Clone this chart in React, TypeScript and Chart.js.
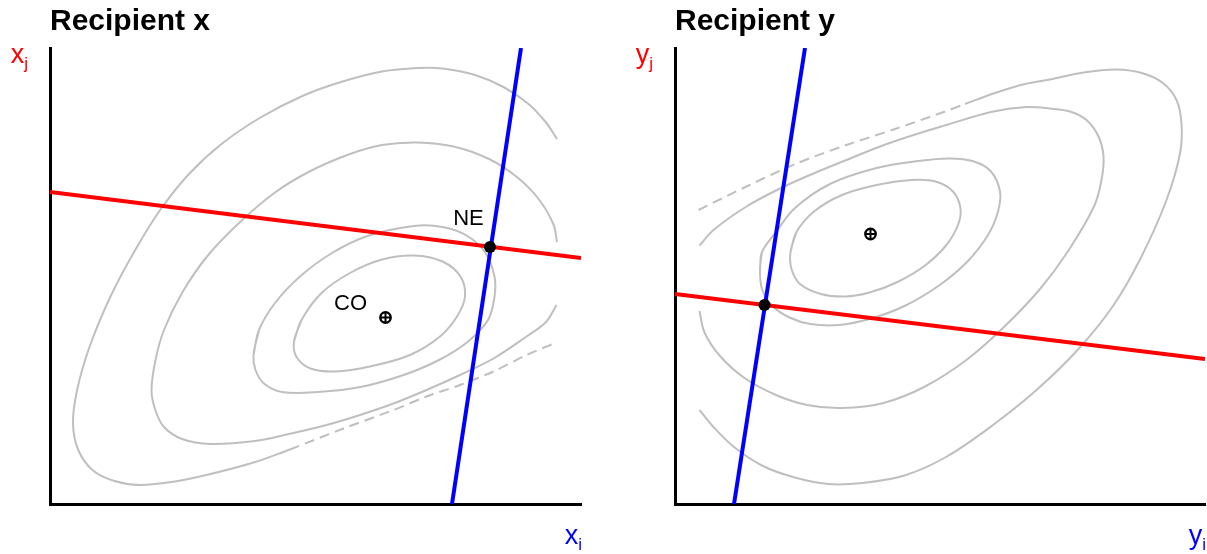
import React, { useEffect, useRef } from "react";
import { Chart, registerables } from "chart.js";

Chart.register(...registerables);

type Pt = [number, number];

// ---------------- Recipient x (left panel) ----------------
const X_TITLE = "Recipient x";
const X_AXIS_Y = ["x", "j"];
const X_AXIS_X = ["x", "i"];
const X_RANGE: Pt = [106.2, 91.2];

const X_CONTOUR_1: Pt[] = [
  [48.8, 32.5], [50.3, 36.8], [54.3, 42.2], [60.0, 46.2], [66.4, 48.9], [72.8, 49.7],
  [78.5, 48.5], [82.1, 45.5], [83.0, 41.5], [81.4, 37.5], [78.0, 33.5], [72.0, 29.8],
  [64.0, 27.5], [57.0, 26.5], [52.1, 27.1], [49.3, 29.4],
];
const X_CONTOUR_2: Pt[] = [
  [40.7, 29.8], [41.8, 34.8], [45.0, 40.2], [50.0, 45.5], [56.4, 50.2], [63.5, 53.6],
  [72.8, 55.6], [78.5, 55.4], [83.5, 53.6], [87.1, 50.2], [88.9, 45.5], [88.9, 41.5],
  [87.6, 36.8], [83.5, 32.4], [77.8, 28.8], [70.7, 25.8], [62.1, 23.4], [53.6, 22.4],
  [46.4, 22.4], [42.8, 24.1], [41.1, 26.8],
];
const X_CONTOUR_3: Pt[] = [
  [101.3, 39.8], [99.2, 36.4], [95.3, 33.5], [88.7, 29.1], [82.0, 25.8], [75.3, 22.8],
  [68.7, 20.1], [62.0, 17.8], [55.3, 15.8], [47.8, 14.0], [41.0, 12.6], [32.1, 12.0],
  [26.4, 13.0], [22.8, 15.4], [21.1, 18.7], [20.3, 22.7], [21.1, 28.8], [22.8, 34.8],
  [26.4, 42.2], [31.4, 49.5], [37.8, 56.2], [45.0, 62.3], [52.1, 66.6], [60.0, 70.0],
  [66.4, 71.8], [73.5, 72.3], [80.7, 71.5], [87.8, 69.0], [93.5, 65.3], [97.8, 60.9],
  [100.7, 55.9], [101.4, 52.4],
];
const X_CONTOUR_4: Pt[] = [
  [101.4, 73.0], [99.2, 76.3], [95.7, 80.0], [90.7, 83.4], [85.0, 85.8], [78.5, 87.1],
  [73.5, 87.2], [66.4, 86.5], [58.5, 84.5], [50.7, 81.7], [42.1, 77.3], [34.3, 72.0],
  [27.8, 66.0], [22.1, 58.9], [17.1, 50.9], [12.1, 41.5], [7.9, 31.4], [5.4, 22.7],
  [4.6, 16.0], [5.7, 10.7], [8.6, 6.7], [12.9, 4.6], [17.9, 3.8], [25.0, 4.5],
  [32.1, 6.0], [40.7, 8.3], [48.0, 10.9],
];
const X_CONTOUR_4_DASHED: Pt[] = [
  [48.0, 10.9], [58.7, 15.1], [68.7, 18.8], [75.3, 21.5], [82.0, 23.8], [88.7, 26.5],
  [95.3, 29.8], [101.3, 32.3],
];
const X_RED: Pt[] = [[0, 62.4], [106.2, 49.2]];
const X_BLUE: Pt[] = [[80.4, 0], [94.2, 91.2]];
const X_NE: Pt = [88.0, 51.4];
const X_CO: Pt = [67.1, 37.3];
const X_LABELS: { text: string; at: Pt }[] = [
  { text: "NE", at: [83.7, 57.1] },
  { text: "CO", at: [60.1, 40.1] },
];

// ---------------- Recipient y (right panel) ----------------
const Y_TITLE = "Recipient y";
const Y_AXIS_Y = ["y", "j"];
const Y_AXIS_X = ["y", "i"];
const Y_RANGE: Pt = [106, 91.2];

const Y_CONTOUR_1: Pt[] = [
  [23.1, 50.4], [24.3, 54.4], [27.8, 58.5], [33.4, 61.8], [40.3, 63.8], [47.3, 64.8],
  [52.1, 64.5], [55.6, 62.5], [57.1, 59.1], [56.6, 55.8], [54.2, 51.7], [50.0, 47.7],
  [44.5, 44.4], [38.9, 42.3], [34.1, 41.5], [29.2, 42.0], [25.0, 44.0], [23.3, 47.0],
];
const Y_CONTOUR_2: Pt[] = [
  [17.0, 47.0], [17.4, 50.4], [20.2, 54.4], [24.0, 59.2], [31.0, 64.0], [40.3, 67.2],
  [48.7, 68.6], [54.9, 69.1], [59.8, 68.5], [63.2, 66.5], [65.0, 62.5], [64.6, 58.5],
  [62.6, 53.8], [58.4, 48.4], [52.8, 43.7], [45.9, 39.6], [38.9, 37.0], [32.7, 35.8],
  [27.1, 36.0], [22.9, 37.3], [19.5, 39.6], [17.4, 43.0],
];
const Y_CONTOUR_3: Pt[] = [
  [4.9, 51.7], [7.7, 54.8], [14.3, 59.5], [21.0, 63.1], [27.7, 66.1], [34.3, 68.8],
  [41.0, 71.5], [47.7, 73.8], [54.3, 75.8], [63.2, 78.4], [70.2, 79.4], [75.0, 79.1],
  [79.0, 78.5], [82.3, 76.8], [84.7, 73.5], [85.7, 69.5], [85.3, 64.8], [83.8, 59.5],
  [78.5, 50.4], [73.0, 43.0], [66.0, 35.6], [58.4, 28.9], [50.0, 23.5], [41.7, 20.2],
  [33.4, 19.2], [26.4, 19.8], [20.2, 21.8], [13.9, 25.2], [9.0, 29.6], [5.9, 34.3],
  [4.9, 38.6],
];
const Y_CONTOUR_4: Pt[] = [
  [58.0, 80.0], [64.0, 82.2], [70.0, 84.0], [75.0, 84.9], [81.7, 86.3], [88.3, 86.9],
  [93.7, 86.1], [97.7, 84.1], [100.3, 80.8], [101.3, 76.1], [101.0, 70.1], [98.3, 60.8],
  [93.1, 49.1], [87.6, 39.6], [80.6, 30.9], [72.3, 22.8], [63.2, 15.5], [54.2, 9.4],
  [45.9, 5.7], [37.5, 4.2], [30.6, 4.0], [23.6, 5.4], [17.4, 7.7], [11.8, 11.4],
  [7.6, 15.5], [4.9, 18.8],
];
const Y_CONTOUR_4_DASHED: Pt[] = [
  [4.7, 58.8], [14.3, 63.5], [24.3, 68.1], [34.3, 71.8], [44.3, 75.1], [54.3, 78.6],
  [58.0, 80.0],
];
const Y_RED: Pt[] = [[0, 42.0], [106, 29.0]];
const Y_BLUE: Pt[] = [[11.8, 0], [26.0, 91.2]];
const Y_NE: Pt = [17.9, 39.8];
const Y_CO: Pt = [39.1, 54.0];
const Y_LABELS: { text: string; at: Pt }[] = [];

// ---------------- rendering ----------------
const FONT = '"Liberation Sans", Arial, Helvetica, sans-serif';
const GRAY = "#bfbfbf";
const RED = "#ff0000";
const BLUE = "#0000ff";

interface PanelSpec {
  title: string;
  axisY: string[];
  axisX: string[];
  range: Pt;
  closedCurves: Pt[][];
  openCurves: Pt[][];
  dashed: Pt[];
  red: Pt[];
  blue: Pt[];
  ne: Pt;
  co: Pt;
  labels: { text: string; at: Pt }[];
  padding: { left: number; right: number; top: number; bottom: number };
}

const toXY = (pts: Pt[]) => pts.map(([x, y]) => ({ x, y }));
const closeLoop = (pts: Pt[]): Pt[] => [...pts, pts[0], pts[1]];

function curve(pts: Pt[], color: string, width: number, tension: number, dash: number[] = []) {
  return {
    data: toXY(pts),
    showLine: true,
    borderColor: color,
    backgroundColor: color,
    borderWidth: width,
    borderDash: dash,
    borderCapStyle: "butt",
    pointRadius: 0,
    pointHoverRadius: 0,
    tension,
    fill: false,
  };
}

function buildDatasets(s: PanelSpec) {
  return [
    {
      data: toXY([s.co]),
      pointStyle: "cross",
      pointRadius: 4.6,
      pointBorderColor: "#000",
      borderColor: "#000",
      pointBorderWidth: 2,
      showLine: false,
      clip: false,
    },
    {
      data: toXY([s.co]),
      pointStyle: "circle",
      pointRadius: 5.2,
      pointBackgroundColor: "#fff",
      backgroundColor: "#fff",
      pointBorderColor: "#000",
      borderColor: "#000",
      pointBorderWidth: 2.4,
      showLine: false,
      clip: false,
    },
    {
      data: toXY([s.ne]),
      pointStyle: "circle",
      pointRadius: 6,
      pointBackgroundColor: "#000",
      backgroundColor: "#000",
      pointBorderWidth: 0,
      borderWidth: 0,
      showLine: false,
      clip: false,
    },
    curve(s.blue, BLUE, 4, 0),
    curve(s.red, RED, 4, 0),
    ...s.closedCurves.map((c) => curve(closeLoop(c), GRAY, 2, 0.35)),
    ...s.openCurves.map((c) => curve(c, GRAY, 2, 0.35)),
    curve(s.dashed, GRAY, 2, 0.3, [10, 6]),
  ];
}

function drawSubLabel(
  ctx: CanvasRenderingContext2D,
  parts: string[],
  right: number,
  baseline: number,
  color: string
) {
  ctx.fillStyle = color;
  ctx.textAlign = "left";
  ctx.textBaseline = "alphabetic";
  ctx.font = `27px ${FONT}`;
  const wm = ctx.measureText(parts[0]).width;
  ctx.font = `17px ${FONT}`;
  const ws = ctx.measureText(parts[1]).width;
  const x0 = right - wm - ws;
  ctx.font = `27px ${FONT}`;
  ctx.fillText(parts[0], x0, baseline);
  ctx.font = `17px ${FONT}`;
  ctx.fillText(parts[1], x0 + wm, baseline + 6);
}

function textPlugin(s: PanelSpec) {
  return {
    id: "panelTexts",
    afterDatasetsDraw(chart: any) {
      const { ctx, chartArea: a, scales } = chart;
      ctx.save();
      ctx.fillStyle = "#000";
      ctx.font = `bold 30px ${FONT}`;
      ctx.textAlign = "left";
      ctx.textBaseline = "alphabetic";
      ctx.fillText(s.title, a.left, 30);
      drawSubLabel(ctx, s.axisY, a.left - 22, a.top + 15, RED);
      drawSubLabel(ctx, s.axisX, a.right + 1, a.bottom + 40, BLUE);
      ctx.fillStyle = "#000";
      ctx.font = `22px ${FONT}`;
      ctx.textAlign = "center";
      ctx.textBaseline = "middle";
      for (const l of s.labels) {
        ctx.fillText(
          l.text,
          scales.x.getPixelForValue(l.at[0]),
          scales.y.getPixelForValue(l.at[1])
        );
      }
      ctx.restore();
    },
  };
}

const SPEC_X: PanelSpec = {
  title: X_TITLE,
  axisY: X_AXIS_Y,
  axisX: X_AXIS_X,
  range: X_RANGE,
  closedCurves: [X_CONTOUR_1, X_CONTOUR_2],
  openCurves: [X_CONTOUR_3, X_CONTOUR_4],
  dashed: X_CONTOUR_4_DASHED,
  red: X_RED,
  blue: X_BLUE,
  ne: X_NE,
  co: X_CO,
  labels: X_LABELS,
  padding: { left: 50, right: 22, top: 48, bottom: 50 },
};

const SPEC_Y: PanelSpec = {
  title: Y_TITLE,
  axisY: Y_AXIS_Y,
  axisX: Y_AXIS_X,
  range: Y_RANGE,
  closedCurves: [Y_CONTOUR_1, Y_CONTOUR_2],
  openCurves: [Y_CONTOUR_3, Y_CONTOUR_4],
  dashed: Y_CONTOUR_4_DASHED,
  red: Y_RED,
  blue: Y_BLUE,
  ne: Y_NE,
  co: Y_CO,
  labels: Y_LABELS,
  padding: { left: 72, right: 2, top: 48, bottom: 50 },
};

function axisOpts(max: number) {
  return {
    type: "linear" as const,
    min: 0,
    max,
    grid: { display: false, drawTicks: false },
    ticks: { display: false },
    border: { display: true, color: "#000", width: 3 },
  };
}

function Panel({ spec, left, width }: { spec: PanelSpec; left: number; width: number }) {
  const ref = useRef<HTMLCanvasElement>(null);
  useEffect(() => {
    const chart = new Chart(ref.current as HTMLCanvasElement, {
      type: "scatter",
      data: { datasets: buildDatasets(spec) as any },
      options: {
        responsive: false,
        animation: false,
        events: [],
        layout: { padding: spec.padding, autoPadding: false },
        plugins: {
          legend: { display: false },
          tooltip: { enabled: false },
          title: { display: false },
        },
        scales: {
          x: axisOpts(spec.range[0]),
          y: axisOpts(spec.range[1]),
        },
      } as any,
      plugins: [textPlugin(spec)],
    });
    return () => chart.destroy();
  }, [spec]);
  return (
    <canvas
      ref={ref}
      width={width}
      height={554}
      style={{ position: "absolute", left, top: 0, width, height: 554 }}
    />
  );
}

export default function App() {
  return (
    <div
      style={{
        position: "absolute",
        left: 0,
        top: 0,
        width: 1207,
        height: 554,
        background: "#fff",
        overflow: "hidden",
      }}
    >
      <Panel spec={SPEC_X} left={0} width={603} />
      <Panel spec={SPEC_Y} left={603} width={604} />
    </div>
  );
}
